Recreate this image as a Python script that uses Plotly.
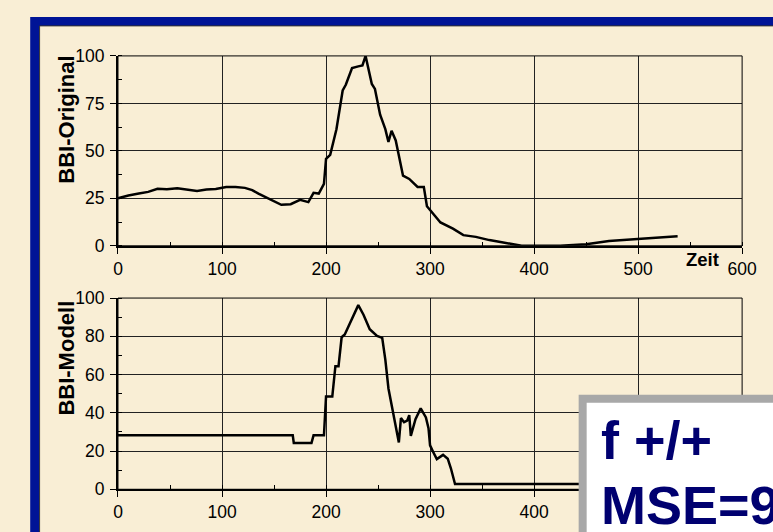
import plotly.graph_objects as go

W, H = 773, 532

# BBI-Original (upper panel)
zeit_orig = [0, 10, 20, 29, 38, 47, 57, 66, 76, 85, 94, 104, 113, 122, 129, 135, 144, 157, 166, 175,
             183, 188, 193, 198, 200, 204, 210, 216, 219, 225, 231, 235, 238, 244, 247, 252, 257, 260,
             263, 267, 274, 280, 288, 294, 297, 302, 310, 322, 332, 344, 357, 369, 381, 388, 410, 425,
             450, 472, 503, 538]
bbi_orig = [25, 26.5, 27.5, 28.4, 30.0, 29.8, 30.3, 29.6, 28.9, 29.6, 29.9, 31, 31, 30.5, 29.3, 27.5,
            25, 21.6, 21.9, 24.2, 23, 27.9, 27.5, 32.6, 45.8, 47.9, 61.4, 81.8, 84.8, 93.6, 94.5, 95,
            100, 85.2, 82.6, 69, 61.4, 54.7, 60.6, 55.5, 36.9, 35.2, 31, 31, 20.8, 17.4, 12.3, 9, 5.6,
            4.7, 3, 1.9, 0.5, 0, 0, 0, 0.8, 2.5, 3.7, 5]

# BBI-Modell (lower panel)
zeit_mod = [0, 168, 169, 186, 188, 198, 200, 206, 209, 212, 215, 218, 231, 236, 242, 249, 254, 257,
            260, 264, 270, 272, 275, 278, 280, 281.5, 286, 291, 296, 298.5, 300, 303, 306.5, 312.5,
            317, 320, 324, 538]
bbi_mod = [28.2, 28.2, 24.2, 24.2, 28.2, 28.2, 48.5, 48.5, 64.4, 64.4, 79.5, 80.9, 96.3, 91.3, 83.7,
           80.2, 79.2, 67.8, 52.7, 40.9, 24.5, 37.2, 35.1, 35.9, 38.8, 27.9, 36.7, 42.3, 37.6, 32,
           23, 19.5, 15.8, 18, 16, 11, 2.7, 2.7]

x_ticks = [0, 100, 200, 300, 400, 500, 600]
x_labels_top = ["0", "100", "200", "300", "400", "500", "600"]
x_labels_bottom = ["0", "100", "200", "300", "400", "", ""]  # 500 / 600 sit under the result box
y_ticks_orig = [0, 25, 50, 75, 100]
y_ticks_mod = [0, 20, 40, 60, 80, 100]

box_title = "f +/+"
box_mse = "MSE=9"

bg = "#f9eed5"
blue = "#001496"
navy = "#000070"
font = "Liberation Sans, Arial, sans-serif"


def px(x):
    return x / W


def py(y):
    return 1 - y / H


fig = go.Figure()
fig.add_trace(go.Scatter(x=zeit_orig, y=bbi_orig, mode="lines", line=dict(color="black", width=2.5),
                         xaxis="x", yaxis="y", showlegend=False, hoverinfo="skip"))
fig.add_trace(go.Scatter(x=zeit_mod, y=bbi_mod, mode="lines", line=dict(color="black", width=2.5),
                         xaxis="x2", yaxis="y2", showlegend=False, hoverinfo="skip"))

x_dom = [px(116), px(756.7)]
axis_common = dict(showline=True, linecolor="black", linewidth=2, showgrid=True, gridcolor="#222",
                   gridwidth=1, zeroline=False, ticks="outside", ticklen=6, tickcolor="black",
                   tickfont=dict(family=font, size=17.5, color="black"), fixedrange=True)

fig.update_layout(
    width=W, height=H, margin=dict(l=0, r=0, t=0, b=0),
    paper_bgcolor=bg, plot_bgcolor=bg,
    xaxis=dict(domain=x_dom, range=[0, 600], tickvals=x_ticks, ticktext=x_labels_top, anchor="y",
               minor=dict(dtick=50, ticks="inside", ticklen=4, tickcolor="black", showgrid=False),
               **axis_common),
    yaxis=dict(domain=[py(245), py(47.7)], range=[0, 100], tickvals=y_ticks_orig, anchor="x",
               minor=dict(dtick=12.5, ticks="inside", ticklen=4, tickcolor="black", showgrid=False),
               ticklabelstandoff=2, **axis_common),
    xaxis2=dict(domain=x_dom, range=[0, 600], tickvals=x_ticks, ticktext=x_labels_bottom, anchor="y2",
                minor=dict(dtick=50, ticks="inside", ticklen=4, tickcolor="black", showgrid=False),
                **axis_common),
    yaxis2=dict(domain=[py(498), py(299.3)], range=[0, 100], tickvals=y_ticks_mod, anchor="x2",
                minor=dict(dtick=10, ticks="inside", ticklen=4, tickcolor="black", showgrid=False),
                ticklabelstandoff=2, **axis_common),
)

shapes = [
    # blue frame, running off the right and bottom edges
    dict(type="rect", xref="paper", yref="paper", x0=px(30.5), x1=px(820), y0=py(580), y1=py(12),
         line=dict(color=blue, width=9), layer="below"),
    dict(type="line", xref="paper", yref="paper", x0=px(35.5), x1=px(800), y0=py(16.5), y1=py(16.5),
         line=dict(color="#333", width=1), layer="below"),
    dict(type="line", xref="paper", yref="paper", x0=px(35.5), x1=px(35.5), y0=py(600), y1=py(16.5),
         line=dict(color="#333", width=1), layer="below"),
    # plot borders
    dict(type="rect", xref="x domain", yref="y domain", x0=0, x1=1, y0=0, y1=1,
         line=dict(color="black", width=1), layer="above"),
    dict(type="rect", xref="x2 domain", yref="y2 domain", x0=0, x1=1, y0=0, y1=1,
         line=dict(color="black", width=1), layer="above"),
    # result box
    dict(type="rect", xref="paper", yref="paper", x0=px(593), x1=px(820), y0=py(600), y1=py(404),
         line=dict(color="#a8a8a8", width=8), fillcolor="white", layer="above"),
]

annotations = [
    dict(text="<b>BBI-Original</b>", textangle=-90, x=px(63), y=py(45), xref="paper", yref="paper",
         xanchor="center", yanchor="top", showarrow=False, font=dict(family=font, size=22, color="black")),
    dict(text="<b>BBI-Modell</b>", textangle=-90, x=px(63), y=py(300), xref="paper", yref="paper",
         xanchor="center", yanchor="top", showarrow=False, font=dict(family=font, size=22, color="black")),
    dict(text="<b>Zeit</b>", x=px(735), y=py(259), xref="paper", yref="paper", xanchor="right",
         yanchor="middle", showarrow=False, font=dict(family=font, size=18.5, color="black")),
    dict(text="<b>" + box_title + "</b>", x=px(610), y=py(447), xref="paper", yref="paper", xanchor="left",
         yanchor="middle", showarrow=False, font=dict(family=font, size=54, color=navy)),
    dict(text="<b>" + box_mse + "</b>", x=px(610), y=py(514), xref="paper", yref="paper", xanchor="left",
         yanchor="middle", showarrow=False, font=dict(family=font, size=54, color=navy)),
]

fig.update_layout(shapes=shapes, annotations=annotations)

# the page has a default body margin; drop it so the figure sits at the top-left corner
fig.write_html("out.html", config={"staticPlot": True},
               post_script="document.body.style.margin='0';")
